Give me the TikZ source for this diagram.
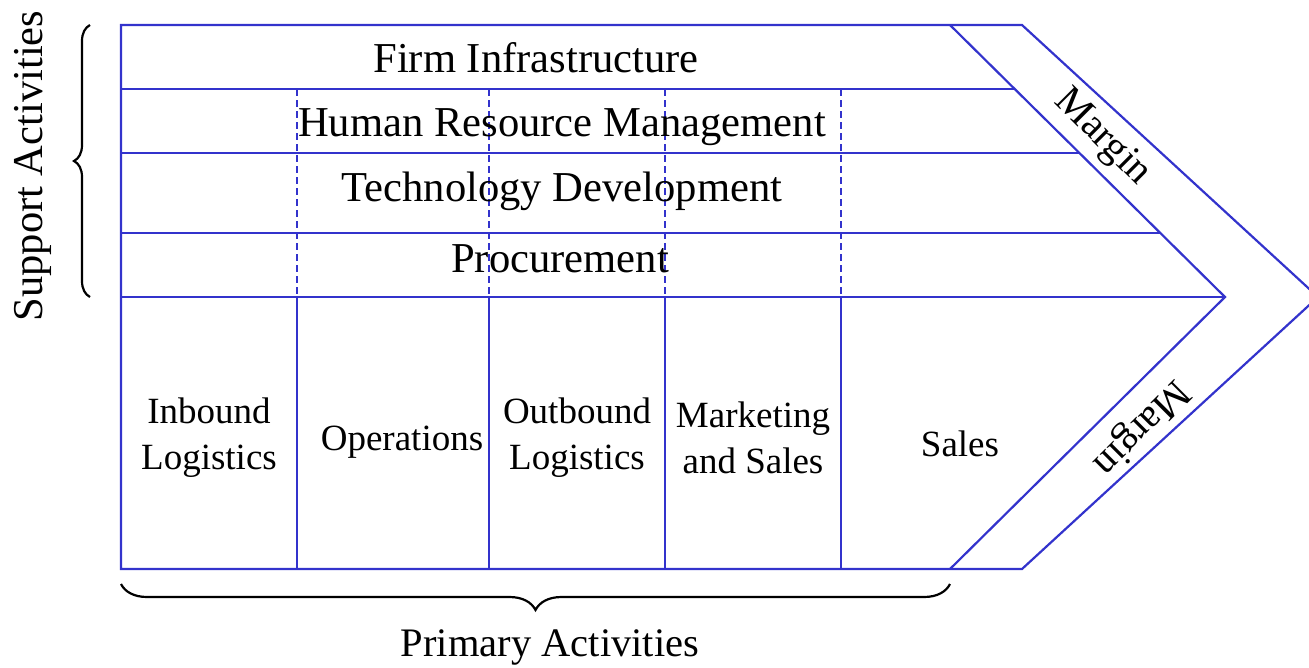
\documentclass[tikz,border=0pt]{standalone}
\usepackage{fontspec}
\setmainfont{Liberation Serif}
\usetikzlibrary{decorations.pathreplacing}
\definecolor{chainblue}{RGB}{51,51,204}
\tikzset{
  frame/.style={draw=chainblue,line width=2.2pt},
  divider/.style={draw=chainblue,line width=1.4pt},
  dashdiv/.style={draw=chainblue,line width=1.4pt,dash pattern=on 7pt off 4pt},
  supportlabel/.style={font=\fontsize{42.6}{46}\selectfont},
  primarylabel/.style={font=\fontsize{37}{46}\selectfont,align=center},
  outerlabel/.style={font=\fontsize{40.5}{46}\selectfont},
  bracelike/.style={draw=black,line width=2.2pt,decorate}
}
\begin{document}
\begin{tikzpicture}[x=1pt,y=-1pt]
  \useasboundingbox (0,0) rectangle (1309,667);
  \clip (0,0) rectangle (1309,667);
  % Draw outer chevron
  \draw[frame] (121,25) -- (1022,25) -- (1318,297) -- (1022,569) -- (121,569) -- cycle;
  \draw[frame] (950,25) -- (1225,297) -- (950,569);
  % Draw support rows
  \draw[frame] (121,89)  -- (1015,89);
  \draw[frame] (121,153) -- (1079,153);
  \draw[frame] (121,233) -- (1160,233);
  \draw[frame] (121,297) -- (1225,297);
  % Draw columns
  \foreach \x in {297,489,665,841} {
    \draw[dashdiv] (\x,89) -- (\x,297);
    \draw[divider] (\x,297) -- (\x,569);
  }
  % Support activities
  \node[supportlabel] (firm) at (536,58) {Firm Infrastructure};
  \node[supportlabel] (hrm) at (562,127) {Human Resource Management};
  \node[supportlabel] (tech) at (562,191) {Technology Development};
  \node[supportlabel] (proc) at (560,259) {Procurement};
  % Primary activities
  \node[primarylabel] (inbound) at (209,438) {Inbound\\Logistics};
  \node[primarylabel] (ops) at (402,442) {Operations};
  \node[primarylabel] (outbound) at (577,438) {Outbound\\Logistics};
  \node[primarylabel] (market) at (753,438) {Marketing\\and Sales};
  \node[primarylabel] (sales) at (960,444) {Sales};
  % Margin
  \node[outerlabel,rotate=-45] (margintop) at (1102,138) {Margin};
  \node[outerlabel,rotate=225] (marginbot) at (1140,427) {Margin};
  % Braces
  \draw[bracelike,decoration={brace,amplitude=16pt}] (90,297) -- (90,25);
  \draw[bracelike,decoration={brace,amplitude=26pt}] (950,584) -- (121,584);
  \node[outerlabel,rotate=90,font=\fontsize{42.5}{46}\selectfont] (support) at (33,166) {Support Activities};
  \node[outerlabel] (primary) at (550,647) {Primary Activities};
\end{tikzpicture}
\end{document}
